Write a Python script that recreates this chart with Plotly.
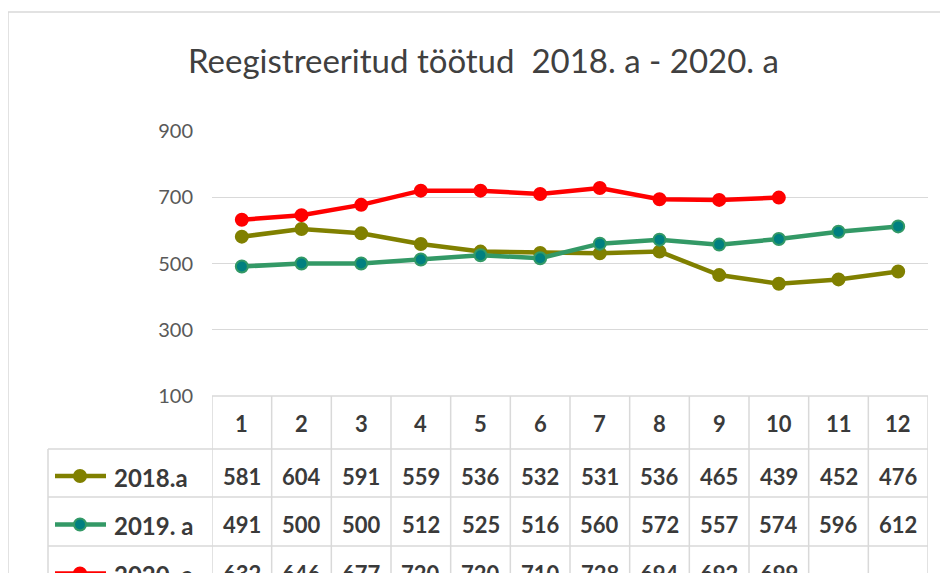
import plotly.graph_objects as go

# the page body has an 8px margin, so the figure is sized to the visible window
OFF = 8
W, H = 948 - OFF, 573 - OFF

# data
months = list(range(1, 13))
series_names = ['2018.a', '2019. a', '2020. a']
vals_2018 = [581, 604, 591, 559, 536, 532, 531, 536, 465, 439, 452, 476]
vals_2019 = [491, 500, 500, 512, 525, 516, 560, 572, 557, 574, 596, 612]
vals_2020 = [632, 646, 677, 720, 720, 710, 728, 694, 692, 699]
y_ticks = [100, 300, 500, 700, 900]

series_values = [vals_2018, vals_2019, vals_2020]
line_colors = ['#808000', '#339966', '#ff0000']
marker_fill = ['#808000', '#008080', '#ff0000']

GRID = '#d9d9d9'
TXT = '#3a3a3a'
FONT = 'Lato'


def px(x):
    return (x - OFF) / W


def py(y):
    return 1 - (y - OFF) / H


fig = go.Figure()

for name, vals, lc, mf in zip(series_names, series_values, line_colors, marker_fill):
    fig.add_trace(go.Scatter(
        x=months[:len(vals)],
        y=vals,
        name=name,
        mode='lines+markers',
        line=dict(color=lc, width=4.5),
        marker=dict(size=12, color=mf, line=dict(color=lc, width=2)),
        showlegend=False,
        hoverinfo='skip'
    ))

# data table below the plot area
header_top, row_edges = 396, [449, 497, 546, 595]
shapes = []
annotations = []

# chart border
shapes.append(dict(type='rect', xref='paper', yref='paper',
                   x0=px(8), x1=1.05, y0=-0.1, y1=py(12),
                   line=dict(color=GRID, width=1.5)))

# horizontal table lines
shapes.append(dict(type='line', xref='x', yref='paper', x0=0.5, x1=12.5,
                   y0=py(header_top), y1=py(header_top), line=dict(color=GRID, width=1.5)))
for yy in row_edges[:-1]:
    shapes.append(dict(type='line', xref='paper', yref='paper', x0=px(48), x1=px(928),
                       y0=py(yy), y1=py(yy), line=dict(color=GRID, width=1.5)))

# vertical table lines
for k in range(13):
    shapes.append(dict(type='line', xref='x', yref='paper', x0=0.5 + k, x1=0.5 + k,
                       y0=py(header_top), y1=-0.1, line=dict(color=GRID, width=1.5)))
shapes.append(dict(type='line', xref='paper', yref='paper', x0=px(48), x1=px(48),
                   y0=py(row_edges[0]), y1=-0.1, line=dict(color=GRID, width=1.5)))

# header numbers
for m in months:
    annotations.append(dict(x=m, y=py((header_top + row_edges[0]) / 2 + 1), xref='x', yref='paper',
                            xanchor='center', yanchor='middle',
                            text='<b>%d</b>' % m, showarrow=False,
                            font=dict(family=FONT, size=22, color=TXT)))

# value rows + legend keys (last row is cut off by the window, as in the original)
for i, (name, vals, lc, mf) in enumerate(zip(series_names, series_values, line_colors, marker_fill)):
    yc = (row_edges[i] + row_edges[i + 1]) / 2 + 3
    for m, v in zip(months, vals):
        annotations.append(dict(x=m, y=py(yc), xref='x', yref='paper',
                                xanchor='center', yanchor='middle',
                                text='<b>%d</b>' % v, showarrow=False,
                                font=dict(family=FONT, size=22, color=TXT)))
    annotations.append(dict(x=px(112), y=py(yc + 1), xref='paper', yref='paper',
                            xanchor='left', yanchor='middle',
                            text='<b>%s</b>' % name, showarrow=False,
                            font=dict(family=FONT, size=24, color=TXT)))
    shapes.append(dict(type='line', xref='paper', yref='paper', x0=px(55), x1=px(106),
                       y0=py(yc), y1=py(yc), line=dict(color=lc, width=4.5)))
    shapes.append(dict(type='circle', xref='paper', yref='paper', x0=px(74), x1=px(86),
                       y0=py(yc + 6), y1=py(yc - 6), fillcolor=mf, line=dict(color=lc, width=2)))

# title
annotations.append(dict(x=px(484), y=py(60), xref='paper', yref='paper',
                        xanchor='center', yanchor='middle',
                        text='Reegistreeritud töötud  2018. a - 2020. a', showarrow=False,
                        font=dict(family=FONT, size=33, color='#404040')))

fig.update_layout(
    width=W,
    height=H,
    margin=dict(l=0, r=0, t=0, b=0),
    paper_bgcolor='white',
    plot_bgcolor='white',
    font=dict(family=FONT, color='#595959'),
    shapes=shapes,
    annotations=annotations,
)

fig.update_xaxes(
    domain=[px(212), px(928)],
    range=[0.5, 12.5],
    showgrid=False,
    zeroline=False,
    showticklabels=False,
    showline=False,
    automargin=False
)
fig.update_yaxes(
    domain=[py(396), py(131)],
    range=[100, 900],
    tickvals=y_ticks,
    gridcolor=GRID,
    gridwidth=1,
    zeroline=False,
    showline=False,
    ticks='',
    ticklabelstandoff=18,
    automargin=False,
    tickfont=dict(family=FONT, size=20, color='#595959')
)

fig.write_html('out.html')
